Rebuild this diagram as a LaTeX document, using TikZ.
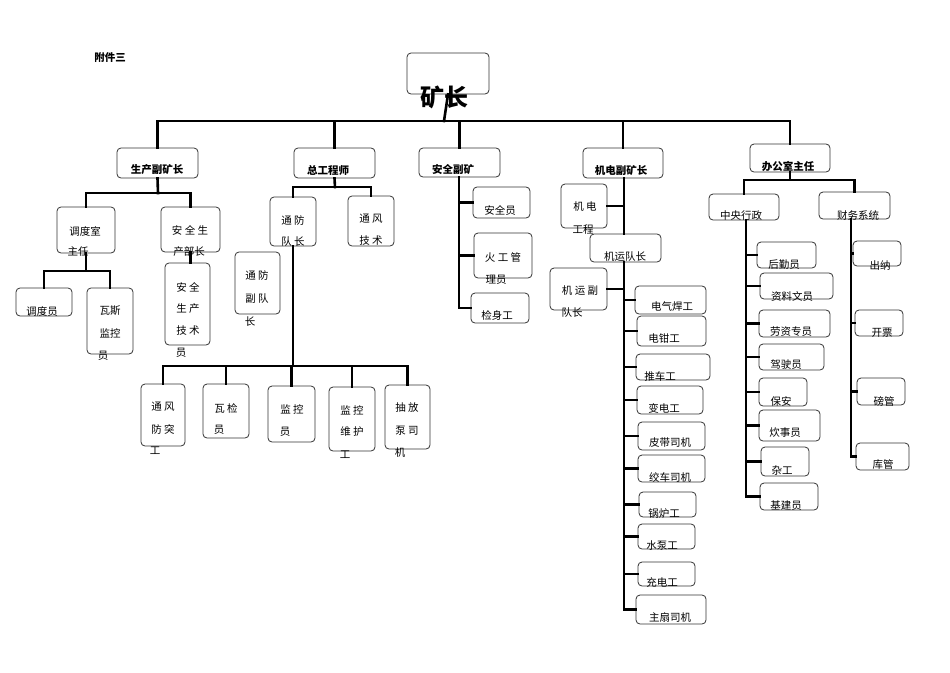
\documentclass[tikz,border=0pt]{standalone}
\usepackage{fontspec}
\setmainfont{Noto Sans CJK SC}
\begin{document}
\begin{tikzpicture}[x=1pt,y=-1pt,
  box/.style={draw=black!80,line width=0.8pt,rounded corners=4pt,inner sep=0pt},
  conn/.style={line width=2.6pt,line cap=rect},
  t/.style={inner sep=0pt,font=\fontsize{10.5}{12}\selectfont},
  tb/.style={inner sep=0pt,font=\fontsize{10.5}{12}\selectfont\bfseries}]
\useasboundingbox (0,0) rectangle (950,672);
\newcommand{\bx}[5]{\node[box,minimum width={(#4-#2)*1pt},minimum height={(#5-#3)*1pt}] (#1) at ({(#2+#4)/2},{(#3+#5)/2}) {};}
\node[tb] (fj) at (110,58) {附件三};
% level 0/1
\bx{kz}{407}{53}{489}{94}
\node[inner sep=0pt,font=\fontsize{24}{26}\selectfont\bfseries] at (444,97) {矿长};
\bx{sc}{117}{148}{198}{178}\node[tb] at (157,170) {生产副矿长};
\bx{zg}{294}{148}{375}{178}\node[tb] at (328,170) {总工程师};
\bx{aq}{419}{148}{500}{177}\node[tb] at (453,170) {安全副矿};
\bx{jd}{583}{148}{663}{178}\node[tb] at (621,171) {机电副矿长};
\bx{bg}{750}{144}{830}{172}\node[tb] at (788,166) {办公室主任};
\coordinate (top) at (444,121);
\draw[conn] (kz.south) -- (top);
\draw[conn] (sc.north) |- (top) -| (bg.north);
\draw[conn] (zg.north) -- (zg.north|-top);
\draw[conn] (aq.north) -- (aq.north|-top);
\draw[conn] (jd.north) -- (jd.north|-top);
% production
\bx{dd}{57}{207}{115}{253}\node[t] at (85,231) {调度室};\node[t] at (78,252) {主任};
\bx{aqs}{161}{207}{220}{252}\node[t] at (190,230) {安 全 生};\node[t] at (189,252) {产部长};
\coordinate (b1) at (158,193);
\draw[conn] (sc.south) -- (b1);
\draw[conn] (dd.north) |- (b1) -| (aqs.north);
\bx{ddy}{16}{288}{72}{316}\node[t] at (42,311) {调度员};
\bx{ws}{87}{288}{133}{354}\node[t] at (110,311) {瓦斯};\node[t] at (110,333) {监控};\node[t] at (103,356) {员};
\coordinate (b2) at (86,271);
\draw[conn] (dd.south) -- (b2);
\draw[conn] (ddy.north) |- (b2) -| (ws.north);
\bx{js}{165}{263}{210}{345}\node[t] at (188,287) {安 全};\node[t] at (188,309) {生 产};\node[t] at (188,331) {技 术};\node[t] at (181,353) {员};
\draw[conn] (aqs.south) -- (aqs.south|-js.north);
% chief engineer
\bx{tf}{270}{197}{316}{246}\node[t] at (293,221) {通 防};\node[t] at (293,242) {队 长};
\bx{tfj}{348}{196}{394}{246}\node[t] at (371,219) {通 风};\node[t] at (371,241) {技 术};
\bx{tff}{235}{252}{280}{314}\node[t] at (257,276) {通 防};\node[t] at (257,299) {副 队};\node[t] at (250,321) {长};
\coordinate (b3) at (335,187);
\draw[conn] (zg.south) -- (b3);
\draw[conn] (tf.north) |- (b3) -| (tfj.north);
\bx{c1}{141}{384}{185}{446}\node[t] at (163,407) {通 风};\node[t] at (163,429) {防 突};\node[t] at (155,451) {工};
\bx{c2}{203}{384}{249}{438}\node[t] at (226,408) {瓦 检};\node[t] at (219,430) {员};
\bx{c3}{268}{386}{315}{442}\node[t] at (292,409) {监 控};\node[t] at (285,432) {员};
\bx{c4}{329}{387}{375}{451}\node[t] at (352,410) {监 控};\node[t] at (352,432) {维 护};\node[t] at (345,455) {工};
\bx{c5}{385}{385}{430}{449}\node[t] at (407,408) {抽 放};\node[t] at (407,431) {泵 司};\node[t] at (400,453) {机};
\coordinate (b4) at (293,366);
\draw[conn] (tf.south) -- (b4);
\draw[conn] (c1.north) |- (b4) -| (c5.north);
\foreach \n in {c2,c3,c4} \draw[conn] (\n.north) -- (\n.north|-b4);
% safety
\bx{a1}{473}{187}{530}{218}\node[t] at (500,210) {安全员};
\bx{a2}{474}{233}{532}{278}\node[t] at (503,257) {火 工 管};\node[t] at (496,280) {理员};
\bx{a3}{471}{293}{529}{323}\node[t] at (497,316) {检身工};
\coordinate (at) at (459,177);
\draw[conn] (at) |- (a3.west);
\draw[conn] (at|-a1.west) -- (a1.west);
\draw[conn] (at|-a2.west) -- (a2.west);
% electro-mechanical
\bx{jg}{561}{184}{607}{228}\node[t] at (585,207) {机 电};\node[t] at (583,230) {工程};
\bx{jy}{590}{234}{661}{262}\node[t] at (625,257) {机运队长};
\bx{jyf}{550}{268}{607}{310}\node[t] at (580,291) {机 运 副};\node[t] at (572,313) {队长};
\coordinate (jt) at (624,178);
\draw[conn] (jt) -- (jt|-jy.north);
\draw[conn] (jg.east) -- (jt|-jg.east);
\coordinate (jt2) at (624,262);
\draw[conn] (jyf.east) -- (jt2|-jyf.east);
\bx{w1}{635}{286}{706}{314}\node[t] at (672,307) {电气焊工};
\bx{w2}{637}{316}{706}{346}\node[t] at (664,339) {电钳工};
\bx{w3}{636}{354}{710}{380}\node[t] at (660,376) {推车工};
\bx{w4}{637}{386}{703}{414}\node[t] at (664,408) {变电工};
\bx{w5}{638}{422}{705}{450}\node[t] at (670,443) {皮带司机};
\bx{w6}{638}{455}{705}{482}\node[t] at (670,477) {绞车司机};
\bx{w7}{639}{492}{696}{517}\node[t] at (664,514) {锅炉工};
\bx{w8}{638}{524}{695}{549}\node[t] at (662,546) {水泵工};
\bx{w9}{638}{562}{695}{586}\node[t] at (662,582) {充电工};
\bx{w10}{636}{595}{706}{624}\node[t] at (670,618) {主扇司机};
\draw[conn] (jt2) |- (w10.west);
\foreach \n in {w1,w2,w3,w4,w5,w6,w7,w8,w9} \draw[conn] (jt2|-\n.west) -- (\n.west);
% office
\bx{zy}{709}{194}{779}{220}\node[t] at (741,216) {中央行政};
\bx{cw}{819}{192}{890}{219}\node[t] at (858,215) {财务系统};
\coordinate (b5) at (790,180);
\draw[conn] (bg.south) -- (b5);
\draw[conn] (zy.north) |- (b5) -| (cw.north);
\bx{o1}{757}{242}{816}{268}\node[t] at (784,265) {后勤员};
\bx{o2}{760}{273}{833}{299}\node[t] at (792,296) {资料文员};
\bx{o3}{759}{310}{830}{337}\node[t] at (791,332) {劳资专员};
\bx{o4}{759}{344}{824}{370}\node[t] at (786,365) {驾驶员};
\bx{o5}{759}{378}{807}{406}\node[t] at (781,401) {保安};
\bx{o6}{759}{410}{820}{441}\node[t] at (785,433) {炊事员};
\bx{o7}{761}{447}{809}{476}\node[t] at (782,470) {杂工};
\bx{o8}{760}{483}{818}{510}\node[t] at (786,506) {基建员};
\coordinate (ot) at (746,220);
\draw[conn] (ot) |- (o8.west);
\foreach \n in {o1,o2,o3,o4,o5,o6,o7} \draw[conn] (ot|-\n.west) -- (\n.west);
\bx{f1}{853}{241}{901}{266}\node[t] at (880,265) {出纳};
\bx{f2}{855}{310}{903}{336}\node[t] at (882,333) {开票};
\bx{f3}{857}{378}{905}{405}\node[t] at (884,401) {磅管};
\bx{f4}{856}{443}{909}{470}\node[t] at (883,465) {库管};
\coordinate (ft) at (851,219);
\draw[conn] (ft) |- (f4.west);
\foreach \n in {f1,f2,f3} \draw[conn] (ft|-\n.west) -- (\n.west);
\end{tikzpicture}
\end{document}
